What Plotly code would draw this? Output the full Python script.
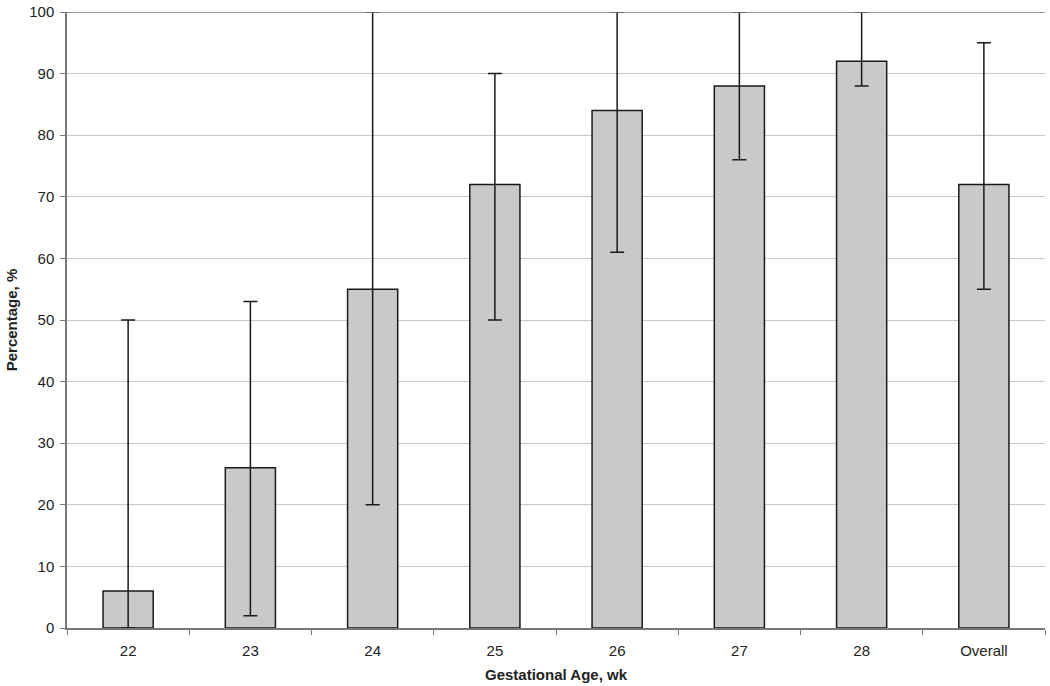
import plotly.graph_objects as go

categories = ["22", "23", "24", "25", "26", "27", "28", "Overall"]
percentages = [6, 26, 55, 72, 84, 88, 92, 72]
ci_lower = [0, 2, 20, 50, 61, 76, 88, 55]
ci_upper = [50, 53, 100, 90, 100, 100, 100, 95]

err_plus = [u - p for u, p in zip(ci_upper, percentages)]
err_minus = [p - l for p, l in zip(percentages, ci_lower)]

fig = go.Figure()
fig.add_trace(go.Bar(
    x=categories,
    y=percentages,
    width=0.41,
    marker=dict(color="#c8c9cb", line=dict(color="#1a1a1a", width=1.5)),
    error_y=dict(type="data", symmetric=False, array=err_plus, arrayminus=err_minus,
                 color="#1a1a1a", thickness=1.5, width=7),
    showlegend=False,
))

fig.update_layout(
    width=1050, height=686,
    margin=dict(l=67, r=5, t=12, b=58),
    plot_bgcolor="white", paper_bgcolor="white",
    font=dict(family="Liberation Sans, Arial, sans-serif", size=15, color="#222"),
    bargap=0.59,
)
fig.update_xaxes(
    type="category", automargin=False,
    showline=True, linecolor="#777", linewidth=1.5,
    ticks="outside", tickson="boundaries", ticklen=5, tickcolor="#777",
    ticklabelstandoff=8,
    showgrid=False,
    title=dict(text="<b>Gestational Age, wk</b>", font=dict(size=15), standoff=12),
)
fig.update_yaxes(
    range=[0, 100], dtick=10, automargin=False,
    showline=True, linecolor="#777", linewidth=1.5,
    ticks="outside", ticklen=5, tickcolor="#777",
    ticklabelstandoff=3,
    showgrid=True, gridcolor="#c8c8c8", gridwidth=1,
    zeroline=False,
    title=dict(text="<b>Percentage, %</b>", font=dict(size=15), standoff=8),
)
# top border line at 100
fig.add_shape(type="line", xref="paper", yref="y", x0=0, x1=1, y0=100, y1=100,
              line=dict(color="#777", width=1.5))

# drop the default 8px body margin so the figure sits at the window's corner
fig.write_html("out.html", config={"displayModeBar": False},
               post_script="document.body.style.margin='0';")
